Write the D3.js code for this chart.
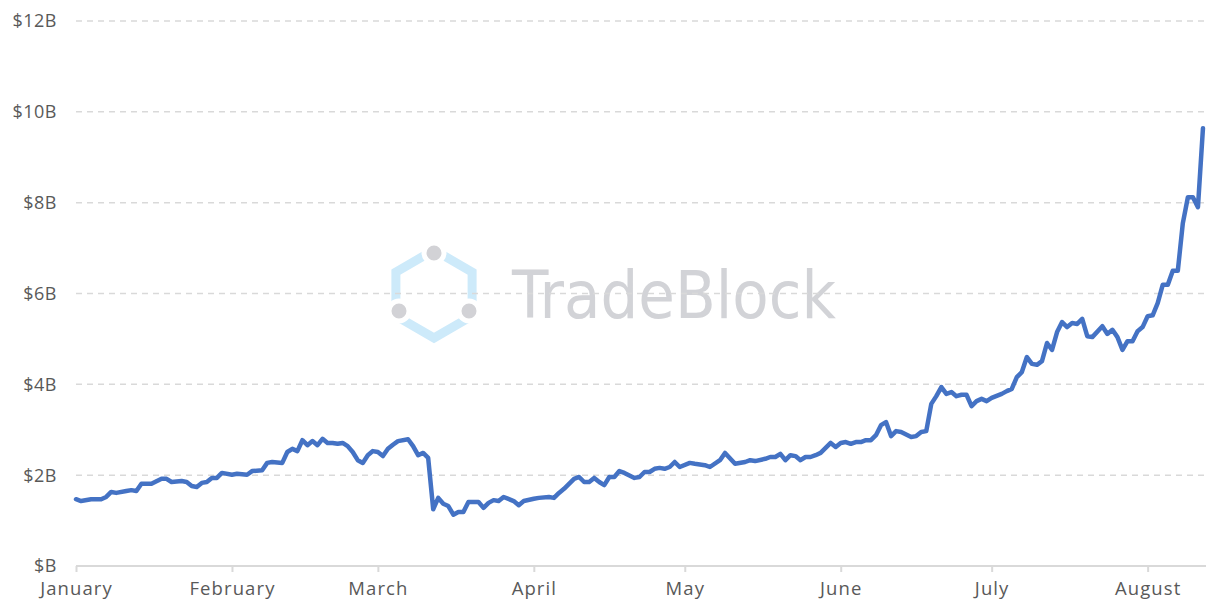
<!DOCTYPE html>
<html>
<head>
<meta charset="utf-8">
<script src="https://cdn.jsdelivr.net/npm/d3@7"></script>
<style>
  body { margin: 0; background: #fff; }
  svg text { font-family: "Century Gothic", "Open Sans", sans-serif; }
</style>
</head>
<body>
<div id="chart"></div>
<script>
// days counted from 2020-01-01, and the traded value in $ billions
const dayOffsets = [0,1,3,5,6,7,8,10,11,12,13,15,17,18,19,21,22,23,24,25,26,27,28,29,31,32,34,35,37,38,39,41,42,43,44,45,46,47,48,49,50,51,52,53,54,55,56,57,58,59,60,61,62,63,64,66,67,68,69,70,71,72,73,74,75,76,77,78,80,81,82,83,84,85,87,88,89,91,92,94,95,96,97,99,100,101,102,103,104,105,106,107,108,109,111,112,113,114,115,116,117,118,119,120,122,123,125,126,128,129,131,133,134,135,137,138,139,140,141,142,143,144,145,146,147,148,150,151,152,153,154,155,156,157,158,159,160,161,162,163,164,166,167,168,169,170,171,172,173,174,175,176,177,178,179,180,181,182,184,185,186,187,188,189,190,191,192,193,194,195,196,197,198,199,200,201,202,204,205,206,207,208,209,210,211,212,213,214,215,216,217,218,219,220,221,222,223,224];
const volumeB = [1.47,1.43,1.47,1.47,1.52,1.63,1.61,1.65,1.67,1.65,1.81,1.81,1.92,1.92,1.85,1.87,1.85,1.76,1.74,1.83,1.85,1.94,1.94,2.05,2.01,2.03,2.01,2.09,2.11,2.27,2.29,2.27,2.51,2.58,2.53,2.77,2.66,2.75,2.66,2.80,2.71,2.71,2.69,2.71,2.64,2.51,2.33,2.27,2.44,2.53,2.51,2.42,2.58,2.67,2.75,2.79,2.64,2.44,2.49,2.38,1.25,1.50,1.37,1.32,1.13,1.19,1.19,1.41,1.41,1.28,1.39,1.45,1.43,1.52,1.43,1.34,1.43,1.48,1.50,1.52,1.50,1.61,1.70,1.92,1.96,1.85,1.85,1.94,1.85,1.78,1.96,1.96,2.09,2.05,1.94,1.96,2.07,2.07,2.14,2.16,2.14,2.18,2.29,2.18,2.27,2.25,2.22,2.18,2.33,2.49,2.25,2.29,2.33,2.31,2.36,2.40,2.40,2.47,2.33,2.44,2.42,2.33,2.40,2.40,2.44,2.49,2.71,2.62,2.71,2.73,2.69,2.73,2.73,2.77,2.77,2.88,3.10,3.17,2.86,2.97,2.95,2.84,2.86,2.95,2.97,3.57,3.74,3.94,3.79,3.83,3.74,3.77,3.77,3.52,3.63,3.68,3.63,3.70,3.79,3.85,3.90,4.16,4.27,4.60,4.45,4.43,4.51,4.91,4.76,5.15,5.37,5.26,5.35,5.33,5.44,5.06,5.04,5.28,5.11,5.20,5.04,4.76,4.95,4.95,5.17,5.26,5.50,5.52,5.79,6.19,6.19,6.50,6.50,7.55,8.12,8.12,7.90,9.64];
const yTicks = [0, 2, 4, 6, 8, 10, 12];
const monthNames = ["January","February","March","April","May","June","July","August"];

const startDate = new Date(2020, 0, 1);
const data = dayOffsets.map((d, i) => ({ date: d3.timeDay.offset(startDate, d), value: volumeB[i] }));

// svg size
const width = 1228, height = 616;
const margin = { top: 21, right: 22, bottom: 50, left: 76 };

const svg = d3.select("#chart").append("svg")
    .attr("width", width).attr("height", height);

// scales
const x = d3.scaleTime()
    .domain([startDate, new Date(2020, 7, 13)])
    .range([margin.left, width - margin.right + 2]);
const y = d3.scaleLinear()
    .domain([0, 12])
    .range([height - margin.bottom, margin.top]);

// watermark (logo + name)
const wm = svg.append("g").attr("class", "watermark");
const cx = 434, cy = 294, r = 44;
const hex = d3.range(6).map(k => {
    const a = Math.PI / 180 * (60 * k - 90);
    return [cx + r * Math.cos(a), cy + r * Math.sin(a)];
});
wm.append("path")
    .attr("d", d3.line()(hex) + "Z")
    .attr("fill", "none")
    .attr("stroke", "#cdeafa")
    .attr("stroke-width", 9);
[[cx, cy - 41], [cx - 35, cy + 17], [cx + 35, cy + 17]].forEach(p => {
    wm.append("circle")
        .attr("cx", p[0]).attr("cy", p[1]).attr("r", 10)
        .attr("fill", "#d2d2d6")
        .attr("stroke", "#fff").attr("stroke-width", 5);
});
wm.append("text")
    .attr("x", 512).attr("y", 318)
    .attr("textLength", 324)
    .attr("lengthAdjust", "spacingAndGlyphs")
    .style("font-family", "'DejaVu Sans', sans-serif")
    .style("font-size", "66px")
    .attr("fill", "#d2d3d7")
    .text("TradeBlock");

// gridlines
svg.append("g")
    .selectAll("line")
    .data(yTicks.filter(d => d > 0))
    .enter()
    .append("line")
    .attr("x1", margin.left).attr("x2", width - margin.right)
    .attr("y1", d => y(d)).attr("y2", d => y(d))
    .attr("stroke", "#d9d9d9")
    .attr("stroke-width", 1.5)
    .attr("stroke-dasharray", "6,5");

// y labels
svg.append("g")
    .selectAll("text")
    .data(yTicks)
    .enter()
    .append("text")
    .attr("x", 57)
    .attr("y", d => y(d))
    .attr("dy", "0.36em")
    .attr("text-anchor", "end")
    .attr("fill", "#595959")
    .style("font-size", "18px")
    .style("letter-spacing", "0.5px")
    .text(d => d === 0 ? "$B" : `$${d}B`);

// x axis
const months = monthNames.map((m, i) => new Date(2020, i, 1));
const xAxis = d3.axisBottom(x)
    .tickValues(months)
    .tickFormat(d3.timeFormat("%B"))
    .tickSize(6)
    .tickSizeOuter(0);
const xg = svg.append("g")
    .attr("transform", `translate(0, ${y(0)})`)
    .call(xAxis);
xg.select(".domain")
    .attr("d", `M${margin.left},0H${width - margin.right}`)
    .attr("stroke", "#d9d9d9").attr("stroke-width", 2);
xg.selectAll(".tick line").attr("stroke", "#d9d9d9").attr("stroke-width", 2);
xg.selectAll(".tick text")
    .attr("fill", "#595959")
    .attr("dy", "1.1em")
    .style("font-size", "18.5px")
    .style("letter-spacing", "1.1px");

// line
const line = d3.line()
    .x(d => x(d.date))
    .y(d => y(d.value));
svg.append("path")
    .datum(data)
    .attr("d", line)
    .attr("fill", "none")
    .attr("stroke", "#4472c4")
    .attr("stroke-width", 4.5)
    .attr("stroke-linejoin", "round")
    .attr("stroke-linecap", "round");
</script>
</body>
</html>
